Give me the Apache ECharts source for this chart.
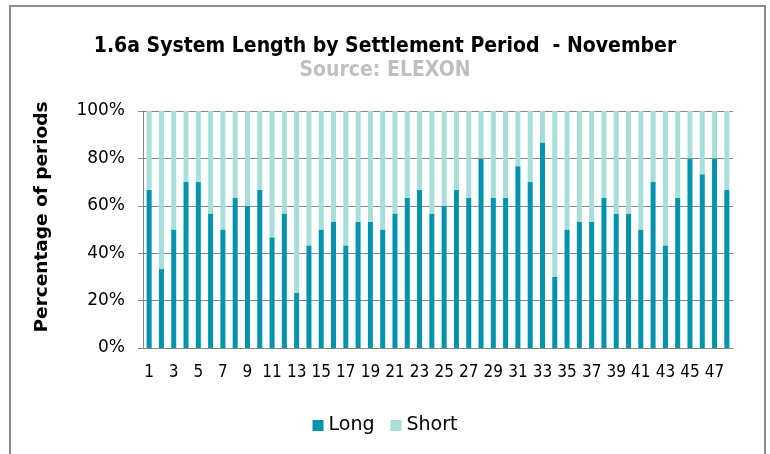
<!DOCTYPE html>
<html>
  <head>
    <meta charset="UTF-8" />
    <title>1.6a System Length by Settlement Period - November</title>
    <script type="text/javascript" src="https://cdn.jsdelivr.net/npm/echarts@6/dist/echarts.min.js"></script>
    <style>
      html, body { margin: 0; padding: 0; background: #fff; }
      #main { width: 770px; height: 454px; }
    </style>
  </head>
  <body>
    <div id="main"></div>
    <script type="text/javascript">
      // settlement periods 1..48
      var periods = [];
      for (var i = 1; i <= 48; i++) periods.push(String(i));

      // % of periods the system was long / short
      var longPct = [66.7, 33.3, 50, 70, 70, 56.7, 50, 63.3, 60, 66.7,
                     46.7, 56.7, 23.3, 43.3, 50, 53.3, 43.3, 53.3, 53.3, 50,
                     56.7, 63.3, 66.7, 56.7, 60, 66.7, 63.3, 80, 63.3, 63.3,
                     76.7, 70, 86.7, 30, 50, 53.3, 53.3, 63.3, 56.7, 56.7,
                     50, 70, 43.3, 63.3, 80, 73.3, 80, 66.7];
      var shortPct = [33.3, 66.7, 50, 30, 30, 43.3, 50, 36.7, 40, 33.3,
                      53.3, 43.3, 76.7, 56.7, 50, 46.7, 56.7, 46.7, 46.7, 50,
                      43.3, 36.7, 33.3, 43.3, 40, 33.3, 36.7, 20, 36.7, 36.7,
                      23.3, 30, 13.3, 70, 50, 46.7, 46.7, 36.7, 43.3, 43.3,
                      50, 30, 56.7, 36.7, 20, 26.7, 20, 33.3];

      var font = "DejaVu Sans";
      var narrowFont = "'DejaVu Sans Condensed', 'DejaVu Sans'";
      var gridGrey = "#868686";

      var chart = echarts.init(document.getElementById("main"));

      var option = {
        backgroundColor: "#fff",
        animation: false,
        textStyle: { fontFamily: font },
        title: {
          text: "1.6a System Length by Settlement Period  - November",
          subtext: "Source: ELEXON",
          left: "center",
          top: 31,
          itemGap: 3,
          textStyle: { fontFamily: narrowFont, fontSize: 21, fontWeight: "bold", color: "#000" },
          subtextStyle: { fontFamily: narrowFont, fontSize: 21, fontWeight: "bold", color: "#BFBFBF" }
        },
        graphic: [
          // outer chart border
          {
            type: "rect",
            shape: { x: 10, y: 6, width: 755, height: 460 },
            style: { fill: "none", stroke: "#8C8C8C", lineWidth: 2 },
            silent: true
          },
          // y axis title, sits a bit above the plot's middle
          {
            type: "text",
            x: 42,
            y: 217,
            rotation: Math.PI / 2,
            style: {
              text: "Percentage of periods",
              fontFamily: font,
              fontSize: 18.5,
              fontWeight: "bold",
              fill: "#000",
              align: "center",
              verticalAlign: "middle"
            },
            silent: true
          }
        ],
        legend: {
          data: ["Long", "Short"],
          top: 411,
          left: "center",
          icon: "rect",
          itemWidth: 11,
          itemHeight: 11,
          itemGap: 16,
          textStyle: { fontFamily: font, fontSize: 19, color: "#000" }
        },
        grid: { left: 143, right: 37, top: 111, bottom: 106 },
        xAxis: {
          type: "category",
          data: periods,
          boundaryGap: true,
          axisLine: { lineStyle: { color: gridGrey, width: 1 } },
          axisTick: { interval: 0, length: 5, lineStyle: { color: gridGrey } },
          axisLabel: { interval: 1, color: "#000", fontSize: 17, margin: 16, fontFamily: narrowFont }
        },
        yAxis: {
          type: "value",
          min: 0,
          max: 100,
          interval: 20,
          axisLine: { show: true, lineStyle: { color: gridGrey, width: 1 } },
          axisTick: { show: true, length: 5, lineStyle: { color: gridGrey } },
          axisLabel: { formatter: "{value}%", color: "#000", fontSize: 17, margin: 18, fontFamily: font },
          splitLine: { lineStyle: { color: gridGrey, width: 1 } }
        },
        series: [
          {
            name: "Long",
            type: "bar",
            stack: "p",
            barWidth: 5,
            itemStyle: { color: "#0093AD" },
            data: longPct
          },
          {
            name: "Short",
            type: "bar",
            stack: "p",
            barWidth: 5,
            itemStyle: { color: "#A6DEDA" },
            data: shortPct
          }
        ]
      };

      chart.setOption(option);
    </script>
  </body>
</html>
